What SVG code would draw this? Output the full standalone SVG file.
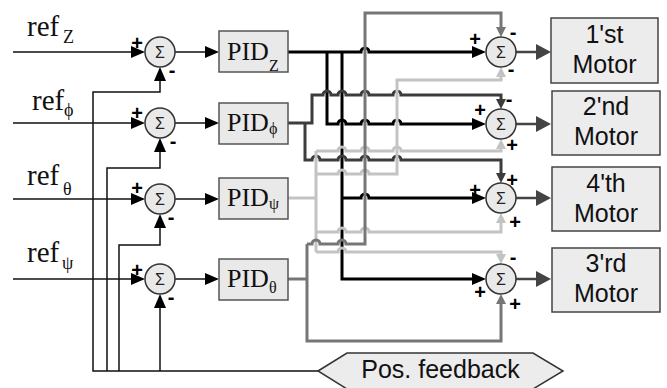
<svg xmlns="http://www.w3.org/2000/svg" width="667" height="388" viewBox="0 0 667 388">
  <defs>
    <style>
      .thin{fill:none;stroke:#111;stroke-width:1.5}
      .w{fill:none;stroke-width:3;stroke-linejoin:miter}
      .k{stroke:#000}
      .dg{stroke:#3c3c3c}
      .mg{stroke:#767676}
      .lg{stroke:#c3c3c3}
      .out{fill:none;stroke:#444;stroke-width:2.5}
      .sum{fill:#e9e9e9;stroke:#333;stroke-width:1.5}
      .box{fill:#e9e9e9;stroke:#555;stroke-width:1.5}
      .mbox{fill:#ececec;stroke:#444;stroke-width:1.5}
      .ref{font-family:"Liberation Serif",serif;font-size:29px;fill:#111}
      .pid{font-family:"Liberation Serif",serif;font-size:26px;fill:#111}
      .sub{font-family:"Liberation Serif",serif;font-size:18px;fill:#111}
      .psub{font-family:"Liberation Serif",serif;font-size:16px;fill:#111}
      .sig{font-family:"Liberation Sans",sans-serif;font-size:16px;fill:#222;text-anchor:middle}
      .pm{font-family:"Liberation Sans",sans-serif;font-weight:bold;font-size:20px;fill:#000;text-anchor:middle}
      .mot{font-family:"Liberation Sans",sans-serif;font-size:25px;fill:#111;text-anchor:middle}
    </style>
    <marker id="ak" markerUnits="userSpaceOnUse" markerWidth="14" markerHeight="12" refX="1" refY="6" orient="auto"><path d="M0,0L14,6L0,12z" fill="#000"/></marker>
    <marker id="adg" markerUnits="userSpaceOnUse" markerWidth="10" markerHeight="10" refX="1" refY="5" orient="auto"><path d="M0,0L10,5L0,10z" fill="#3c3c3c"/></marker>
    <marker id="amg" markerUnits="userSpaceOnUse" markerWidth="10" markerHeight="10" refX="1" refY="5" orient="auto"><path d="M0,0L10,5L0,10z" fill="#767676"/></marker>
    <marker id="alg" markerUnits="userSpaceOnUse" markerWidth="10" markerHeight="10" refX="1" refY="5" orient="auto"><path d="M0,0L10,5L0,10z" fill="#c3c3c3"/></marker>
    <marker id="aout" markerUnits="userSpaceOnUse" markerWidth="15" markerHeight="16" refX="1" refY="8" orient="auto"><path d="M0,0L15,8L0,16z" fill="#444"/></marker>
  </defs>
  <rect width="667" height="388" fill="#fff"/>

  <!-- connectors -->
  <g id="connectors">
    <!-- reference inputs -->
    <path class="thin" d="M13,52H132" marker-end="url(#ak)"/>
    <path class="thin" d="M13,123H132" marker-end="url(#ak)"/>
    <path class="thin" d="M13,199H132" marker-end="url(#ak)"/>
    <path class="thin" d="M13,279H132" marker-end="url(#ak)"/>
    <!-- error to controllers -->
    <path class="thin" d="M175,52H206" marker-end="url(#ak)"/>
    <path class="thin" d="M175,123H206" marker-end="url(#ak)"/>
    <path class="thin" d="M175,199H206" marker-end="url(#ak)"/>
    <path class="thin" d="M175,279H206" marker-end="url(#ak)"/>
    <!-- position feedback bus -->
    <path class="thin" d="M318,371H93V92H160V80" marker-end="url(#ak)"/>
    <path class="thin" d="M107,371V168H160V151" marker-end="url(#ak)"/>
    <path class="thin" d="M119,371V245H160V227" marker-end="url(#ak)"/>
    <path class="thin" d="M160,371V307" marker-end="url(#ak)"/>

    <!-- PID_Z (black) -->
    <path class="w k" d="M288,52H361A4,4 0 0 1 369,52H473" marker-end="url(#ak)"/>
    <path class="w k" d="M327,52V124H338A4,4 0 0 1 346,124H361A4,4 0 0 1 369,124H393A4,4 0 0 1 401,124H473" marker-end="url(#ak)"/>
    <path class="w k" d="M342,52V279H473" marker-end="url(#ak)"/>
    <path class="w k" d="M342,198H361A4,4 0 0 1 369,198H473" marker-end="url(#ak)"/>

    <!-- PID_phi (dark grey) -->
    <path class="w dg" d="M288,123H312V95H323A4,4 0 0 1 331,95H338A4,4 0 0 1 346,95H361A4,4 0 0 1 369,95H393A4,4 0 0 1 401,95H501V100" marker-end="url(#adg)"/>
    <path class="w dg" d="M305,123V160H312A4,4 0 0 1 320,160H338A4,4 0 0 1 346,160H361A4,4 0 0 1 369,160H393A4,4 0 0 1 401,160H501V174" marker-end="url(#adg)"/>

    <!-- PID_psi (light grey) -->
    <path class="w lg" d="M288,198H316"/>
    <path class="w lg" d="M316,151V252"/>
    <path class="w lg" d="M316,174H338A4,4 0 0 1 346,174H361A4,4 0 0 1 369,174H397V80H501V76" marker-end="url(#alg)"/>
    <path class="w lg" d="M316,151H338A4,4 0 0 1 346,151H361A4,4 0 0 1 369,151H393A4,4 0 0 1 401,151H501V148" marker-end="url(#alg)"/>
    <path class="w lg" d="M316,232H338A4,4 0 0 1 346,232H361A4,4 0 0 1 369,232H501V222" marker-end="url(#alg)"/>
    <path class="w lg" d="M316,252H338A4,4 0 0 1 346,252H501V255" marker-end="url(#alg)"/>

    <!-- PID_theta (mid grey) -->
    <path class="w mg" d="M288,279H307"/>
    <path class="w mg" d="M307,244V341H501V303" marker-end="url(#amg)"/>
    <path class="w mg" d="M307,244H312A4,4 0 0 1 320,244H338A4,4 0 0 1 346,244H365V13H501V28" marker-end="url(#amg)"/>

    <!-- mixer outputs to motors -->
    <path class="out" d="M516,52H537" marker-end="url(#aout)"/>
    <path class="out" d="M516,124H537" marker-end="url(#aout)"/>
    <path class="out" d="M516,198H537" marker-end="url(#aout)"/>
    <path class="out" d="M516,279H537" marker-end="url(#aout)"/>
  </g>

  <!-- reference labels -->
  <g id="ref-z"><text class="ref" x="27" y="36">ref</text><text class="sub" x="63" y="43">Z</text></g>
  <g id="ref-phi"><text class="ref" x="32" y="110">ref</text><text class="sub" x="64" y="116">ϕ</text></g>
  <g id="ref-theta"><text class="ref" x="27" y="185">ref</text><text class="sub" x="63" y="195">θ</text></g>
  <g id="ref-psi"><text class="ref" x="27" y="262">ref</text><text class="sub" x="62" y="269">ψ</text></g>

  <!-- error summing junctions -->
  <g id="err-z"><circle class="sum" cx="160" cy="52" r="15"/><text class="sig" x="160" y="58">Σ</text><text class="pm" x="137" y="50">+</text><text class="pm" x="172" y="77">-</text></g>
  <g id="err-phi"><circle class="sum" cx="160" cy="123" r="15"/><text class="sig" x="160" y="129">Σ</text><text class="pm" x="137" y="120">+</text><text class="pm" x="173" y="148">-</text></g>
  <g id="err-theta"><circle class="sum" cx="160" cy="199" r="15"/><text class="sig" x="160" y="205">Σ</text><text class="pm" x="137" y="195">+</text><text class="pm" x="171" y="224">-</text></g>
  <g id="err-psi"><circle class="sum" cx="160" cy="279" r="15"/><text class="sig" x="160" y="285">Σ</text><text class="pm" x="137" y="277">+</text><text class="pm" x="171" y="304">-</text></g>

  <!-- controllers -->
  <g id="pid-z"><rect class="box" x="219" y="31" width="69" height="41"/><text class="pid" x="227" y="60">PID</text><text class="psub" x="269" y="71">Z</text></g>
  <g id="pid-phi"><rect class="box" x="219" y="103" width="69" height="41"/><text class="pid" x="227" y="131">PID</text><text class="psub" x="269" y="134">ϕ</text></g>
  <g id="pid-psi"><rect class="box" x="219" y="178" width="69" height="41"/><text class="pid" x="227" y="206">PID</text><text class="psub" x="269" y="209">ψ</text></g>
  <g id="pid-theta"><rect class="box" x="219" y="259" width="69" height="41"/><text class="pid" x="227" y="287">PID</text><text class="psub" x="269" y="293">θ</text></g>

  <!-- motor mixing junctions -->
  <g id="mix-1"><circle class="sum" cx="501" cy="52" r="15"/><text class="sig" x="501" y="58">Σ</text><text class="pm" x="475" y="46">+</text><text class="pm" x="513" y="39">-</text><text class="pm" x="511" y="76">-</text></g>
  <g id="mix-2"><circle class="sum" cx="501" cy="124" r="15"/><text class="sig" x="501" y="130">Σ</text><text class="pm" x="509" y="106">-</text><text class="pm" x="480" y="117">+</text><text class="pm" x="512" y="152">+</text></g>
  <g id="mix-4"><circle class="sum" cx="501" cy="198" r="15"/><text class="sig" x="501" y="204">Σ</text><text class="pm" x="512" y="187">+</text><text class="pm" x="475" y="197">+</text><text class="pm" x="515" y="229">+</text></g>
  <g id="mix-3"><circle class="sum" cx="501" cy="279" r="15"/><text class="sig" x="501" y="285">Σ</text><text class="pm" x="513" y="264">-</text><text class="pm" x="480" y="299">+</text><text class="pm" x="515" y="311">+</text></g>

  <!-- motors -->
  <g id="motor-1"><rect class="mbox" x="551" y="18" width="107" height="65"/><text class="mot" x="604.5" y="43">1'st</text><text class="mot" x="604.5" y="73">Motor</text></g>
  <g id="motor-2"><rect class="mbox" x="552" y="91" width="108" height="64"/><text class="mot" x="606" y="115">2'nd</text><text class="mot" x="606" y="145">Motor</text></g>
  <g id="motor-4"><rect class="mbox" x="552" y="167" width="108" height="64"/><text class="mot" x="606" y="192">4'th</text><text class="mot" x="606" y="222">Motor</text></g>
  <g id="motor-3"><rect class="mbox" x="552" y="248" width="108" height="64"/><text class="mot" x="606" y="272">3'rd</text><text class="mot" x="606" y="302">Motor</text></g>

  <!-- position feedback source -->
  <g id="pos-feedback"><polygon points="318,371 347,353 533,353 563,371 533,389 347,389" fill="#ececec" stroke="#333" stroke-width="1.5"/><text class="mot" style="font-size:25px" x="440.5" y="378">Pos. feedback</text></g>
</svg>
